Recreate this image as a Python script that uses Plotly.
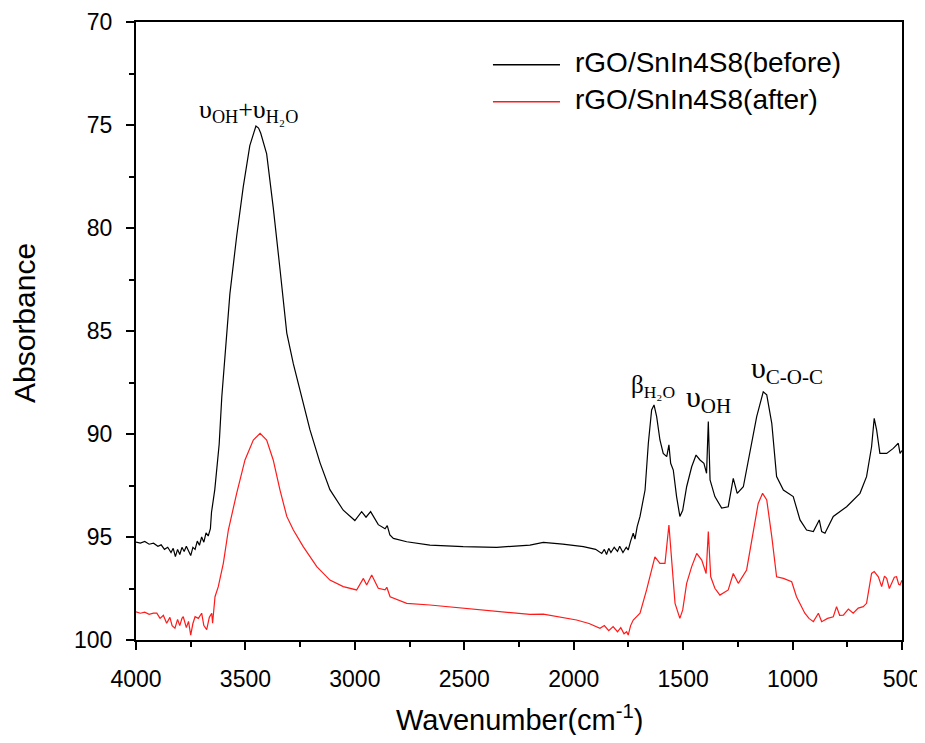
import plotly.graph_objects as go

# FTIR spectra (wavenumber in cm-1, absorbance axis reversed)
wn_before = [4000, 3980, 3960, 3940, 3920, 3900, 3885, 3870, 3855, 3840, 3830, 3820, 3810, 3800,
             3790, 3780, 3770, 3760, 3750, 3740, 3730, 3720, 3710, 3700, 3690, 3680, 3670, 3660,
             3655, 3640, 3620, 3608, 3586, 3571, 3540, 3510, 3480, 3460, 3452, 3440, 3430, 3403, 3373, 3342,
             3311, 3281, 3251, 3205, 3159, 3114, 3053, 3000, 2969, 2949, 2928, 2893, 2862, 2852,
             2840, 2824, 2763, 2657, 2505, 2352, 2200, 2139, 2050, 1956, 1900, 1880, 1872, 1860,
             1850, 1840, 1830, 1815, 1800, 1790, 1775, 1760, 1751, 1740, 1728, 1720, 1710, 1697,
             1685, 1674, 1659, 1644, 1633, 1621, 1606, 1591, 1575, 1565, 1557, 1545, 1530, 1515,
             1502, 1484, 1461, 1441, 1423, 1405, 1393, 1385, 1377, 1355, 1324, 1294, 1271, 1253,
             1225, 1195, 1164, 1134, 1118, 1095, 1073, 1042, 1012, 997, 966, 936, 905, 878, 867,
             852, 814, 753, 692, 662, 639, 627, 616, 601, 570, 540, 517, 509, 500]
ab_before = [95.25, 95.3, 95.22, 95.35, 95.3, 95.45, 95.38, 95.6, 95.5, 95.75, 95.55, 95.95, 95.6, 95.85,
             95.5, 95.7, 95.45, 95.65, 95.9, 95.5, 95.6, 95.2, 95.4, 95.0, 95.25, 94.8, 94.95, 94.6,
             93.8, 92.7, 90.5, 88.2, 85.3, 83.2, 80.4, 78.0, 76.0, 75.3, 75.05, 75.15, 75.4, 76.4, 79.0, 82.0,
             85.1, 86.6, 87.9, 89.8, 91.4, 92.7, 93.7, 94.2, 93.77, 94.04, 93.77, 94.4, 94.6, 94.45,
             94.9, 95.07, 95.23, 95.39, 95.47, 95.5, 95.39, 95.26, 95.35, 95.47, 95.6, 95.75, 95.8, 95.6,
             95.85, 95.55, 95.75, 95.5, 95.7, 95.45, 95.75, 95.5, 95.63, 95.2, 94.82, 95.1, 94.5, 94.0,
             93.4, 92.72, 90.45, 88.83, 88.59, 89.16, 90.29, 90.94, 91.1, 90.53, 91.42, 91.75, 93.04, 94.0,
             93.7, 92.56, 91.59, 91.02, 91.26, 91.42, 91.91, 89.4, 92.23, 93.04, 93.6, 93.53, 92.15, 92.88,
             92.56, 90.94, 89.16, 87.95, 88.1, 89.48, 92.07, 92.72, 92.96, 93.04, 94.17, 94.66, 94.74, 94.17, 94.74,
             94.82, 94.0, 93.53, 92.88, 92.07, 90.62, 89.24, 89.8, 90.94, 90.94, 90.7, 90.45, 90.94, 90.8]

wn_after = [4000, 3980, 3960, 3940, 3920, 3905, 3890, 3875, 3860, 3845, 3835, 3822, 3810, 3800,
            3790, 3784, 3770, 3760, 3750, 3740, 3730, 3715, 3700, 3690, 3677, 3665, 3654, 3650,
            3639, 3624, 3601, 3578, 3540, 3502, 3464, 3433, 3403, 3373, 3342, 3311, 3281, 3236,
            3174, 3114, 3053, 2992, 2961, 2946, 2923, 2893, 2862, 2854, 2839, 2763, 2657, 2505,
            2352, 2200, 2139, 1987, 1930, 1880, 1860, 1840, 1820, 1800, 1785, 1770, 1758, 1751,
            1740, 1728, 1697, 1680, 1667, 1644, 1629, 1606, 1583, 1565, 1552, 1537, 1515, 1502,
            1484, 1461, 1438, 1415, 1395, 1385, 1374, 1355, 1332, 1294, 1271, 1248, 1210, 1180,
            1157, 1137, 1118, 1095, 1073, 1042, 1004, 982, 944, 925, 905, 882, 867, 840, 814,
            799, 785, 768, 745, 723, 700, 677, 662, 639, 627, 608, 593, 580, 570, 558, 547, 535,
            525, 515, 509, 500]
ab_after = [98.63, 98.7, 98.65, 98.75, 98.7, 98.7, 98.95, 98.8, 99.19, 98.9, 99.3, 99.43, 99.0, 99.3,
            98.95, 98.87, 99.4, 99.1, 99.76, 99.2, 98.87, 98.95, 98.7, 99.3, 99.5, 98.9, 98.7, 99.19,
            97.9, 97.41, 96.28, 94.66, 92.88, 91.26, 90.29, 89.97, 90.29, 91.26, 92.72, 94.0, 94.66, 95.47,
            96.44, 97.09, 97.41, 97.57, 97.01, 97.33, 96.84, 97.49, 97.57, 97.44, 97.9, 98.22, 98.3, 98.46,
            98.62, 98.76, 98.74, 99.03, 99.2, 99.43, 99.3, 99.55, 99.35, 99.6, 99.4, 99.7, 99.6, 99.76,
            99.3, 99.03, 98.7, 98.1, 97.57, 96.6, 95.96, 96.28, 96.28, 94.42, 96.28, 98.22, 98.95, 98.54,
            97.25, 96.44, 95.8, 96.12, 96.77, 94.74, 96.93, 97.49, 97.82, 97.57, 96.77, 97.25, 96.6, 94.66,
            93.37, 92.88, 93.2, 94.98, 96.93, 97.01, 97.17, 97.9, 98.7, 98.95, 99.11, 98.7, 99.11, 98.95, 98.87,
            98.38, 98.8, 98.79, 98.5, 98.7, 98.45, 98.38, 98.22, 96.77, 96.68, 96.93, 97.41, 96.9, 97.01, 97.5, 97.25, 96.95,
            96.93, 97.3, 97.33, 97.1]

names = ["rGO/SnIn4S8(before)", "rGO/SnIn4S8(after)"]
colors = ["black", "#ff1a1a"]

fig = go.Figure()
fig.add_trace(go.Scatter(x=wn_before, y=ab_before, mode="lines", name=names[0],
                         line=dict(color=colors[0], width=1.2), showlegend=False))
fig.add_trace(go.Scatter(x=wn_after, y=ab_after, mode="lines", name=names[1],
                         line=dict(color=colors[1], width=1.2), showlegend=False))

# legend drawn by hand so the sample lines are as long as in the original
leg_y = [0.931, 0.871]
for name, col, yy in zip(names, colors, leg_y):
    fig.add_shape(type="line", xref="paper", yref="paper", x0=0.466, x1=0.5535, y0=yy, y1=yy,
                  line=dict(color=col, width=1.5))
    fig.add_annotation(xref="paper", yref="paper", x=0.571, y=yy + 0.004, text=name, showarrow=False,
                       xanchor="left", yanchor="middle", font=dict(size=28, color="black"))

# peak labels
def serif(size):
    return dict(family="Liberation Serif", size=size, color="black")

fig.add_annotation(x=3484, y=74.3, text="υ<sub>OH</sub>+υ<sub>H₂O</sub>", showarrow=False, font=serif(26))
fig.add_annotation(x=1638, y=87.7, text="β<sub>H₂O</sub>", showarrow=False, font=serif(25))
fig.add_annotation(x=1382, y=88.3, text="υ<sub>OH</sub>", showarrow=False, font=serif(30))
fig.add_annotation(x=1026, y=86.9, text="υ<sub>C-O-C</sub>", showarrow=False, font=serif(30))

# axis titles
fig.add_annotation(xref="paper", yref="paper", x=(520 - 136) / 766, y=-(718 - 640) / 618,
                   text="Wavenumber(cm<sup>-1</sup>)", showarrow=False, xanchor="center", yanchor="middle",
                   font=dict(size=29))
fig.add_annotation(xref="paper", yref="paper", x=-(136 - 24) / 766, y=(640 - 323) / 618,
                   text="Absorbance", showarrow=False, textangle=-90, xanchor="center", yanchor="middle",
                   font=dict(size=30))

# the page body adds an 8px offset, so the figure is shrunk by that and margins shifted
fig.update_layout(
    width=917, height=727,
    margin=dict(l=128, r=23, t=14, b=95),
    plot_bgcolor="white", paper_bgcolor="white",
    font=dict(family="Liberation Sans", color="black"),
    showlegend=False,
)
axis_style = dict(showline=True, linecolor="black", linewidth=2, mirror=True, showgrid=False,
                  zeroline=False, ticks="outside", ticklen=8, tickwidth=2, tickcolor="black",
                  tickfont=dict(size=23), automargin=False, ticklabelstandoff=9,
                  ticklabeloverflow="allow")
fig.update_xaxes(range=[4000, 500], tickvals=[4000, 3500, 3000, 2500, 2000, 1500, 1000, 500],
                 minor=dict(dtick=250, ticks="outside", ticklen=5, tickwidth=2, tickcolor="black"),
                 **axis_style)
fig.update_yaxes(range=[100, 70], tickvals=[70, 75, 80, 85, 90, 95, 100],
                 minor=dict(dtick=2.5, ticks="outside", ticklen=5, tickwidth=2, tickcolor="black"),
                 **axis_style)

fig.write_html("out.html")
